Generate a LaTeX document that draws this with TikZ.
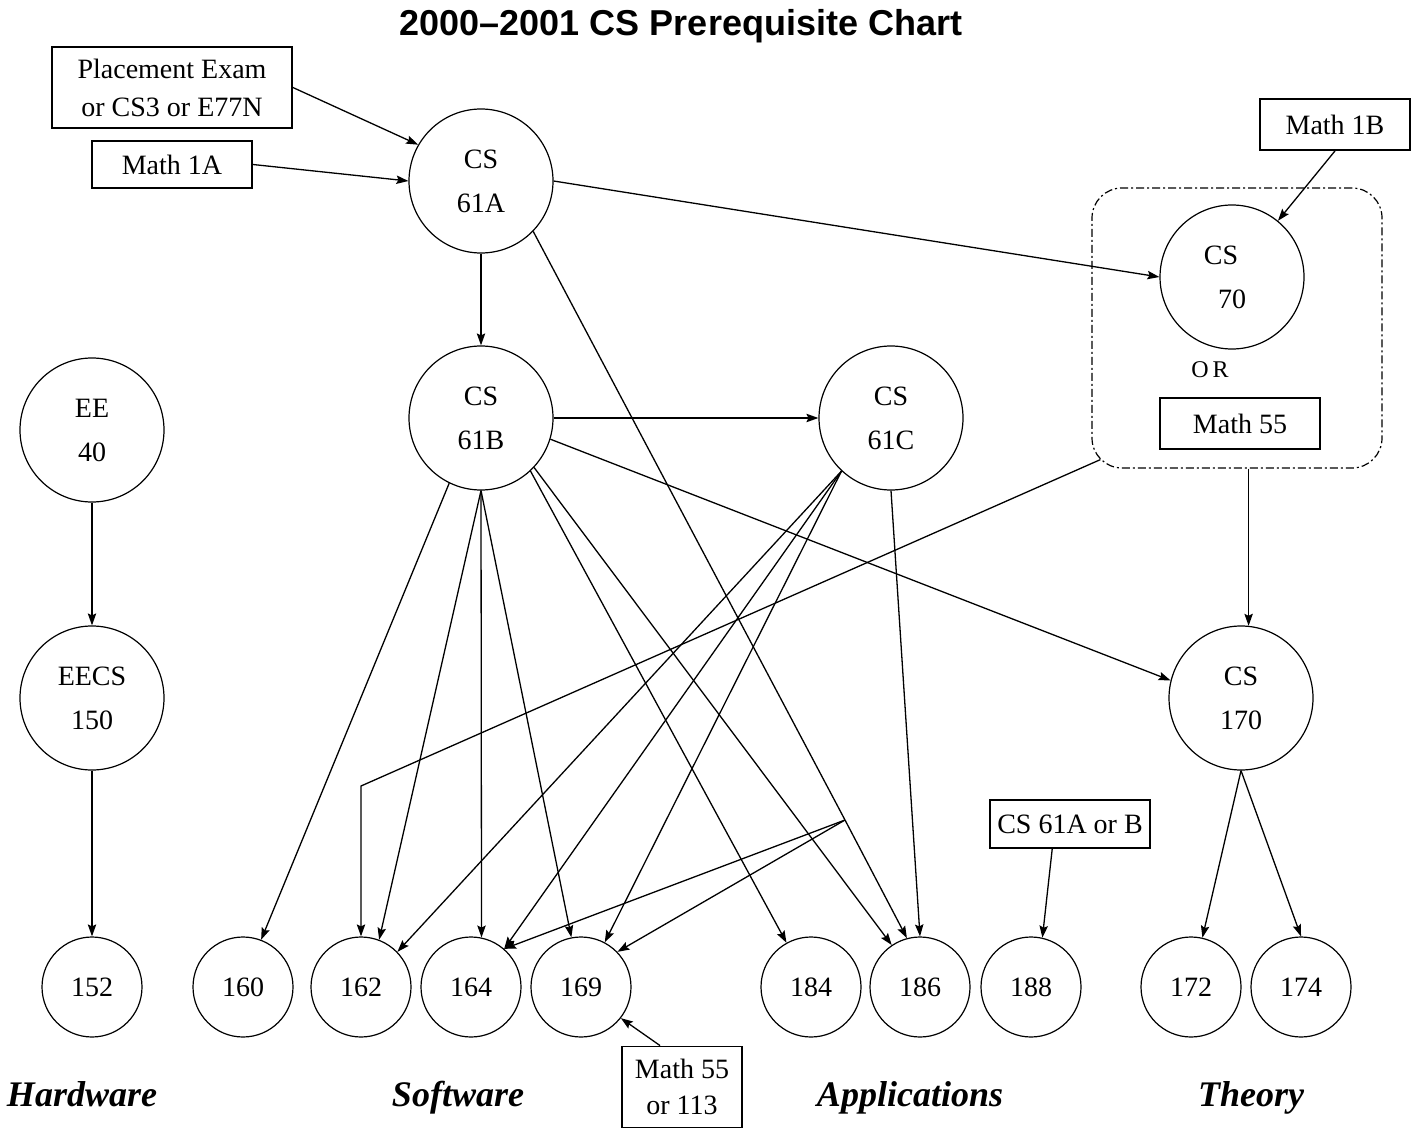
\documentclass[tikz,border=0pt]{standalone}
\usepackage{fontspec}
\setmainfont{Liberation Serif}
\newfontfamily\titlefont{Liberation Sans}
\usetikzlibrary{arrows.meta,calc}

\tikzset{
  course/.style={circle, draw, line width=0.6pt, minimum size=72pt, inner sep=0pt,
                 align=center, font=\fontsize{14}{22}\selectfont},
  lowcourse/.style={course, minimum size=50pt},
  reqbox/.style={draw, line width=0.9pt, inner sep=0pt, align=center,
                 font=\fontsize{14}{19}\selectfont},
  link/.style={line width=0.65pt, -{Stealth[length=6pt,width=4.2pt,inset=1pt]}},
  area/.style={anchor=base, font=\fontsize{18}{20}\selectfont\bfseries\itshape},
  choice/.style={draw, line width=0.6pt, rounded corners=15pt,
                 dash pattern=on 4pt off 1.5pt on 1pt off 1.5pt,
                 minimum width=145pt, minimum height=140pt, inner sep=0pt}
}

\begin{document}
\begin{tikzpicture}[x=0.5pt, y=-0.5pt]
\useasboundingbox (0,0) rectangle (1412,1128);

% title
\node[font=\titlefont\bfseries\fontsize{18}{20}\selectfont] (title) at (681,26) {2000–2001 CS Prerequisite Chart};

% entry requirements
\node[reqbox, minimum width=120pt, minimum height=40.5pt] (place) at (172,87.5) {Placement Exam\\or CS3 or E77N};
\node[reqbox, minimum width=80pt, minimum height=23.5pt] (m1a) at (172,164.5) {Math 1A};
\node[reqbox, minimum width=75pt, minimum height=25.5pt] (m1b) at (1335,124.5) {Math 1B};

% lower-division courses
\node[course] (a61) at (481,181) {CS\\61A};
\node[course] (b61) at (481,418) {CS\\61B};
\node[course] (c61) at (891,418) {CS\\61C};
\node[course] (ee40) at (92,430) {EE\\40};
\node[course] (eecs150) at (92,698) {EECS\\150};
\node[course] (c170) at (1241,698) {CS\\170};

% CS 70 or Math 55 group
\node[choice] (orbox) at (1237,328) {};
\node[course] (c70) at (1232,277) {CS\rule{11pt}{0pt}\\70};
\node[font=\fontsize{12}{14}\selectfont] (or) at (1210,370) {O\,R};
\node[reqbox, minimum width=80pt, minimum height=25.5pt] (m55) at (1240,423.5) {Math 55};

% other requirement boxes
\node[reqbox, minimum width=80pt, minimum height=24pt] (ab) at (1070,824) {CS 61A or B};
\node[reqbox, minimum width=60pt, minimum height=40.5pt, font=\fontsize{14}{18}\selectfont] (m113) at (682,1087) {Math 55\\or 113};

% upper-division courses
\node[lowcourse] (n152) at (92,987) {152};
\node[lowcourse] (n160) at (243,987) {160};
\node[lowcourse] (n162) at (361,987) {162};
\node[lowcourse] (n164) at (471,987) {164};
\node[lowcourse] (n169) at (581,987) {169};
\node[lowcourse] (n184) at (811,987) {184};
\node[lowcourse] (n186) at (920,987) {186};
\node[lowcourse] (n188) at (1031,987) {188};
\node[lowcourse] (n172) at (1191,987) {172};
\node[lowcourse] (n174) at (1301,987) {174};

% area labels
\node[area] (hw) at (82,1106) {Hardware};
\node[area] (sw) at (458,1106) {Software};
\node[area] (ap) at (910,1106) {Applications};
\node[area] (th) at (1251,1106) {Theory};

% routing points
\coordinate (J) at (845,820);
\coordinate (bend) at (361,786);
\coordinate (orc) at ($(orbox.south west)+(9,-9)$);

% prerequisites
\draw[link] (place.east) -- (a61.150);
\draw[link] (m1a.east) -- (a61.west);
\draw[link] (a61.east) -- (c70.west);
\draw[link] (m1b.south) -- (c70);
\draw[link] (a61) -- (b61);
\draw[link] (b61) -- (c61);
\draw[link] (b61.-17) -- (c170.166);

\draw[link] (b61.244) -- (n160.69);
\draw[link] (b61.south) -- (n162.69);
\draw[link] (b61.south) -- (n164.78);
\draw[link] (b61.south) -- (n169.101);
\draw[link] (b61.-47) -- (n184.119);
\draw[link] (b61.-43) -- (n186.124);

\draw[link] (a61.-44) -- (J) -- (n186.105);
\draw[link] (J) -- (n164.49);
\draw[link] (J) -- (n169.44);

\draw[link] (c61.227) -- (n162.44);
\draw[link] (c61.227) -- (n164.49);
\draw[link] (c61.227) -- (n169.62);
\draw[link] (c61.south) -- (n186.north);

\draw[link] (orc) -- (bend) -- (n162.north);
\draw[link] (orbox.south -| c170.84) -- (c170.84);

\draw[link] (ee40) -- (eecs150);
\draw[link] (eecs150) -- (n152);
\draw[link] (c170.south) -- (n172.77);
\draw[link] (c170.south) -- (n174.north);

\draw[link] ($(ab.south west)!0.39!(ab.south east)$) -- (n188.77);
\draw[link] ($(m113.north west)!0.32!(m113.north east)$) -- (n169.-38);
\end{tikzpicture}
\end{document}
